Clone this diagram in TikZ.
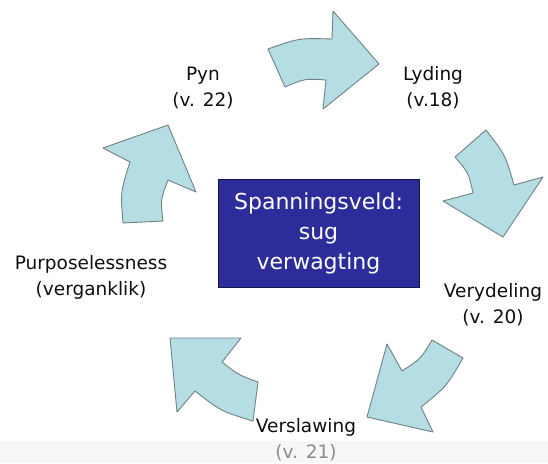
\documentclass[tikz,border=0pt]{standalone}
\usepackage{fontspec}
\setmainfont{DejaVu Sans}
\definecolor{arrowfill}{RGB}{181,222,228}
\definecolor{arrowline}{RGB}{112,128,132}
\definecolor{boxfill}{RGB}{44,44,155}
\definecolor{boxline}{RGB}{22,22,70}
\definecolor{labeltext}{RGB}{15,15,15}
\begin{document}
\begin{tikzpicture}[x=1pt,y=-1pt,
  carrow/.style={fill=arrowfill,draw=arrowline,line width=0.9pt,line join=round},
  lbl/.style={align=center,font=\fontsize{18.5}{26}\selectfont,text=labeltext,inner sep=0pt},
  centrebox/.style={draw=boxline,line width=0.8pt,fill=boxfill,text=white,align=center,
    font=\fontsize{22}{30}\selectfont,minimum width=201pt,minimum height=108pt,inner sep=0pt}]
\useasboundingbox (0,0) rectangle (548,463);
\fill[white] (0,0) rectangle (548,463);
\fill[black!3] (0,441) rectangle (548,463);

% top arrow (Pyn -> Lyding)
\draw[carrow] (268,49) .. controls (299,38) .. (332,39) -- (333,11) -- (379,64)
  -- (323,109) -- (326,80) .. controls (304.6,78.6) .. (285,87) -- cycle;
% right arrow (Lyding -> Verydeling)
\draw[carrow] (486,130) .. controls (505.3,154.8) .. (514,185) -- (543,177) -- (503,237)
  -- (443,201) -- (473,193) .. controls (468.5,172.7) .. (455,157) -- cycle;
% bottom-right arrow (Verydeling -> Verslawing)
\draw[carrow] (463,358) .. controls (446.6,386.4) .. (421,407) -- (433,432) -- (367,417)
  -- (387,344) -- (402,371) .. controls (420.8,358.8) .. (432,340) -- cycle;
% bottom-left arrow (Verslawing -> Purposelessness)
\draw[carrow] (253,421) .. controls (221.2,411.3) .. (195,391) -- (177,412) -- (170,338)
  -- (241,338) -- (222,362) .. controls (238.5,375) .. (258,382) -- cycle;
% left arrow (Purposelessness -> Pyn)
\draw[carrow] (123,223) .. controls (120.5,191.8) .. (130,162) -- (103,148) -- (168,125)
  -- (196,192) -- (168,180) .. controls (160.5,199.9) .. (163,221) -- cycle;

\node[centrebox] (box) at (318.5,233) {Spanningsveld:\\sug\\verwagting};

\node[lbl] (pyn) at (203,88) {Pyn\\(v. 22)};
\node[lbl] (lyding) at (433,88) {Lyding\\(v.18)};
\node[lbl] (verydeling) at (493,305) {Verydeling\\(v. 20)};
\node[lbl] (verslawing) at (306,440) {Verslawing\\{\color{black!45}(v. 21)}};
\node[lbl] (purpose) at (91,277) {Purposelessness\\(verganklik)};
\end{tikzpicture}
\end{document}
